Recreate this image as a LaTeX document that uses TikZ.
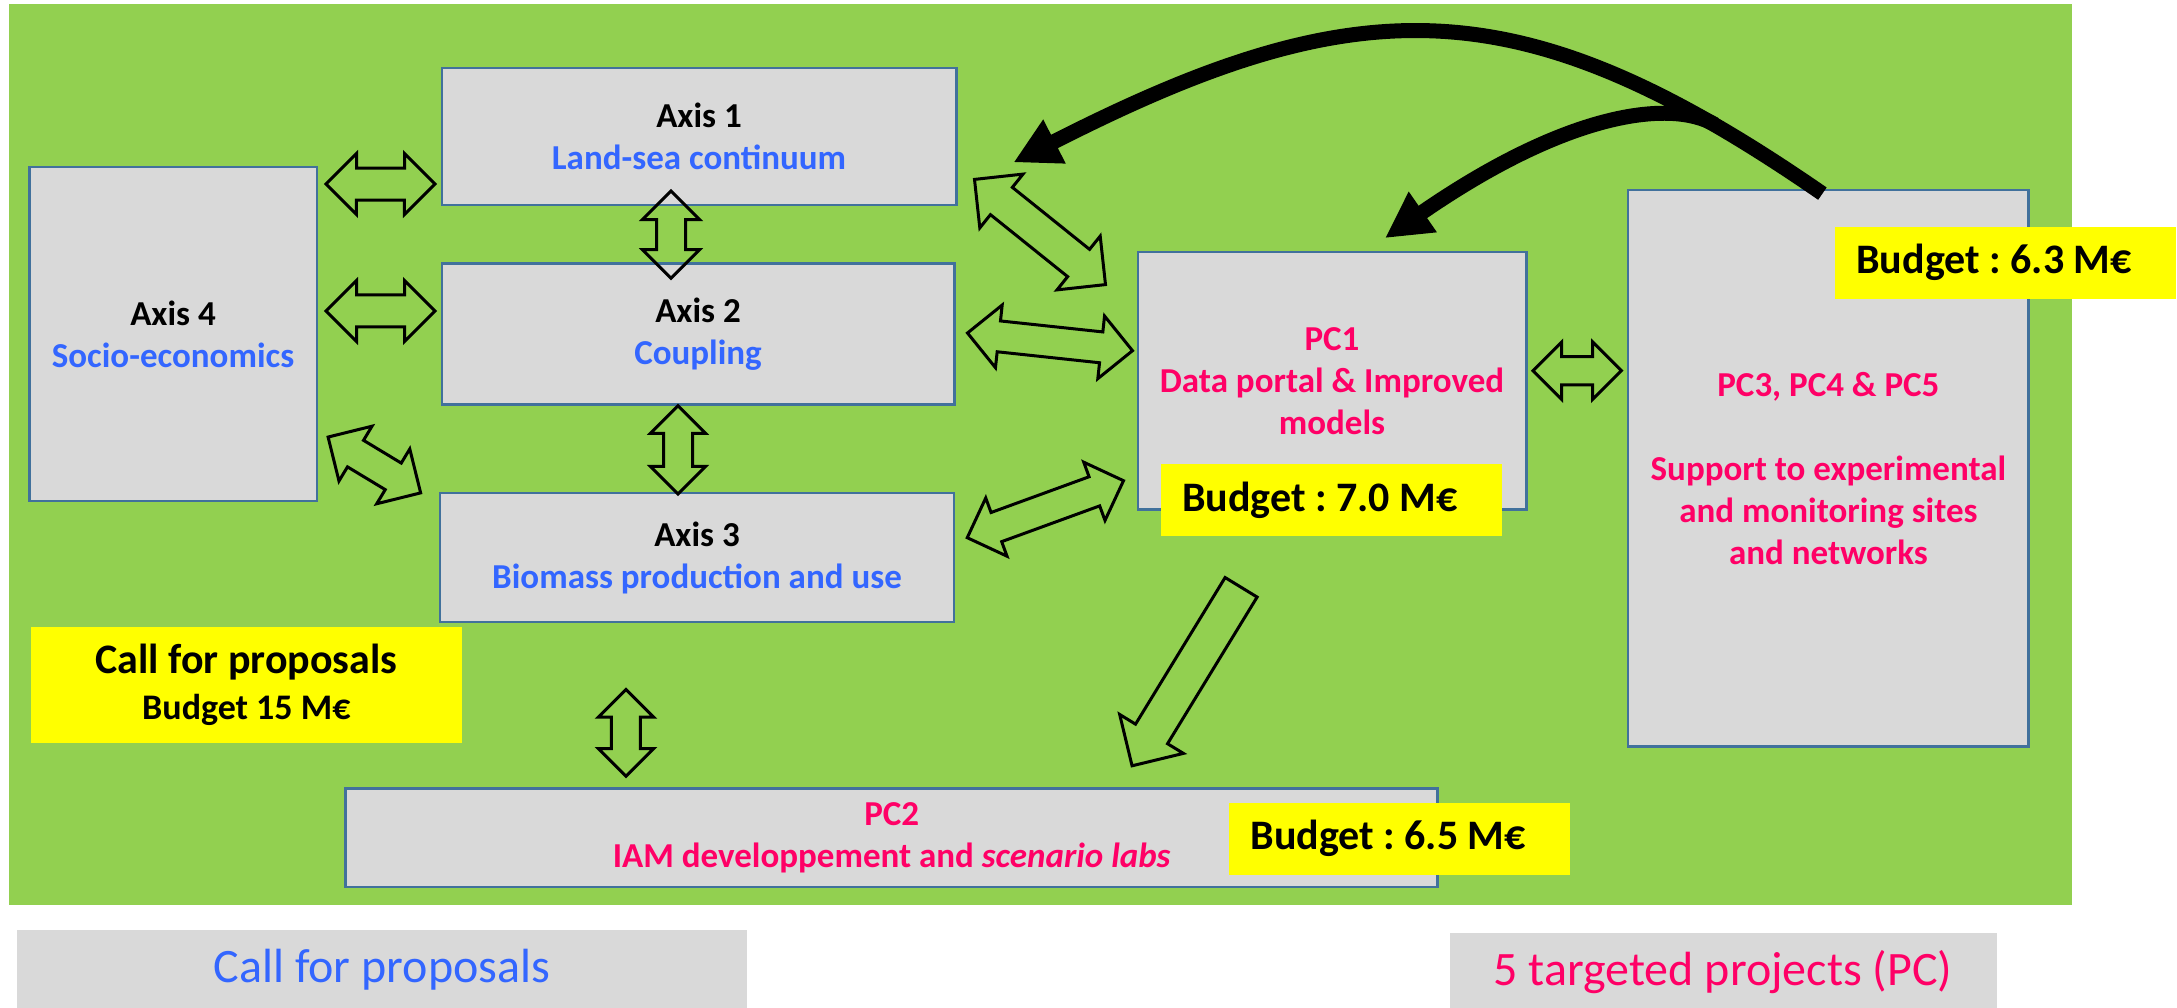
\documentclass[tikz,border=0pt]{standalone}
\usepackage{fontspec}
\setmainfont{Carlito}
\usetikzlibrary{shapes.arrows,arrows.meta,calc}
\frenchspacing

\definecolor{col_92d050}{RGB}{146,208,80}
\definecolor{col_d9d9d9}{RGB}{217,217,217}
\definecolor{col_41719c}{RGB}{65,113,156}
\definecolor{col_ffff00}{RGB}{255,255,0}
\definecolor{col_3366ff}{RGB}{51,102,255}
\definecolor{col_ff0066}{RGB}{255,0,102}
\definecolor{col_000000}{RGB}{0,0,0}
\newcommand{\tikzdrawblockarrow}[5]{%
\path let \p1=(#2), \p2=(#3), \n1={atan2((\y2)-(\y1),(\x2)-(\x1))}, \n2={veclen((\x2)-(\x1),(\y2)-(\y1))} in
  node[blockarrow, #1, minimum height=\n2, inner ysep=#4, #1 head extend=#5, rotate=\n1] at ($(\p1)!0.5!(\p2)$) {};
}

\begin{document}
\begin{tikzpicture}[x=1pt,y=-1pt,
  box/.style={draw=col_41719c, line width=2.5pt, fill=col_d9d9d9, inner sep=0pt, align=center, font=\fontsize{35}{42}\selectfont\bfseries},
  budget/.style={fill=col_ffff00, inner xsep=21.5pt, inner ysep=0pt, text width=298pt, minimum height=71.5pt, align=flush left, font=\fontsize{42}{50}\selectfont\bfseries},
  legend/.style={fill=col_d9d9d9, inner sep=0pt, align=center, font=\fontsize{48}{58}\selectfont},
  blockarrow/.style={draw=col_000000, line width=3pt, inner xsep=0pt, outer sep=0pt},
  bigcurve/.style={draw=col_000000, line width=15pt, -{Triangle[length=46pt,width=46pt]}}]
\useasboundingbox (0,0) rectangle (2177,1008);
\fill[col_92d050] (9,4) rectangle (2072,905);     %% background
\node[box, minimum width=514.5, minimum height=136.8] (ax1) at (699,136.4) {Axis 1\\\textcolor{col_3366ff}{Land-sea continuum}};
\node[box, minimum width=512.5, minimum height=141] (ax2) at (698,334) {Axis 2\\\textcolor{col_3366ff}{Coupling}};
\node[box, minimum width=514, minimum height=129] (ax3) at (697,557.7) {Axis 3\\\textcolor{col_3366ff}{Biomass production and use}};
\node[box, minimum width=287.5, minimum height=333.5] (ax4) at (173,334) {Axis 4\\\textcolor{col_3366ff}{Socio-economics}};
\node[box, text=col_ff0066, minimum width=388.5, minimum height=257.7] (pc1) at (1332,380.7) {PC1\\Data portal \& Improved\\models};
\node[box, text=col_ff0066, minimum width=400.5, minimum height=556.6] (pc3) at (1828.4,468.2) {PC3, PC4 \& PC5\\[42pt]Support to experimental\\and monitoring sites\\and networks};
\node[box, text=col_ff0066, minimum width=1092, minimum height=98.5] (pc2) at (891.7,837.8) {PC2\\IAM developpement and \textit{scenario labs}};
%% budgets
\node[fill=col_ffff00, inner sep=0pt, minimum width=431.8, minimum height=116.7, align=center, font=\fontsize{42}{46}\selectfont\bfseries] (call) at (246.4,685) {Call for proposals\\{\fontsize{36}{48}\selectfont Budget 15 M€}};
\node[budget] (budget70) at (1331.3,499.9) {Budget : 7.0 M€};
\node[budget] (budget63) at (2005.4,262.8) {Budget : 6.3 M€};
\node[budget] (budget65) at (1399.5,838.8) {Budget : 6.5 M€};
%% legend
\node[legend, text=col_3366ff, minimum width=730.3, minimum height=80] (legcall) at (381.9,970) {Call for proposals};
\node[legend, text=col_ff0066, minimum width=547, minimum height=77] (legpc) at (1723,971.7) {5 targeted projects (PC)};
%% block arrows
\tikzdrawblockarrow{double arrow}{$(ax4.north east)+(8,18)$}{$(ax1.south west)+(-5.5,-22)$}{14.5}{14.5}
\tikzdrawblockarrow{double arrow}{$(ax4.east)+(8,-23)$}{$(ax2.west)+(-5.5,-23)$}{14.5}{14.5}
\tikzdrawblockarrow{double arrow}{$(ax4.south east)+(10,-65)$}{$(ax3.north west)+(-18,1)$}{14}{16.5}
\tikzdrawblockarrow{double arrow}{$(ax1.south)+(-28,-15)$}{$(ax2.north)+(-27,16)$}{13}{14}
\tikzdrawblockarrow{double arrow}{$(ax2.south)+(-20,0)$}{$(ax3.north)+(-19,2)$}{13}{13}
\tikzdrawblockarrow{double arrow}{$(ax1.east)+(17,43)$}{$(pc1.north west)+(-31,34)$}{16}{17}
\tikzdrawblockarrow{double arrow}{$(ax2.east)+(12,-1)$}{$(pc1.west)+(-4,-30)$}{14}{16}
\tikzdrawblockarrow{double arrow}{$(ax3.east)+(12,-20)$}{$(pc1.west)+(-13,100)$}{14}{15.5}
\tikzdrawblockarrow{double arrow}{$(ax3.south)+(-71,66)$}{$(pc2.north west)+(281.5,-11)$}{13}{13.25}
\tikzdrawblockarrow{double arrow}{$(pc1.east)+(5.5,-10)$}{$(pc3.west)+(-5.5,-97.5)$}{12.65}{14.55}
\tikzdrawblockarrow{single arrow}{$(pc1.south)+(-86,68.5)$}{$(pc2.north east)+(-302,-29.5)$}{17.25}{18.6}
%% curved arrows
\draw[bigcurve] ($(pc3.north)+(-6,5)$) .. controls +(-301,-208) and +(347,-177) .. ($(ax1.east)+(56,26)$);
\draw[bigcurve] ($(pc3.north)+(-113.4,-64)$) .. controls +(-43,-25) and +(185,-128) .. ($(pc1.north)+(53,-12.5)$);
\end{tikzpicture}
\end{document}
